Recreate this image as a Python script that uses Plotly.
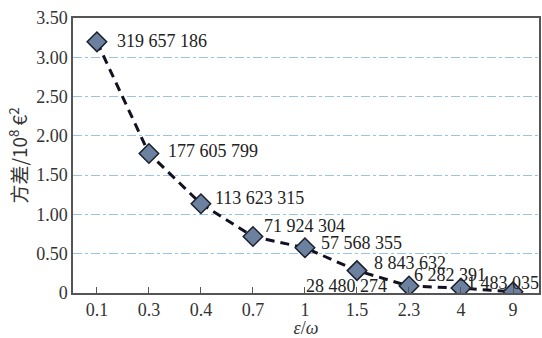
import plotly.graph_objects as go

ratios = ["0.1", "0.3", "0.4", "0.7", "1", "1.5", "2.3", "4", "9"]
variance = [319657186, 177605799, 113623315, 71924304, 57568355, 28480274, 8843632, 6282391, 1483035]
labels = ["319 657 186", "177 605 799", "113 623 315", "71 924 304", "57 568 355",
          "28 480 274", "8 843 632", "6 282 391", "1 483 035"]
y_vals = [v / 1e8 for v in variance]
ytick_vals = [0, 0.5, 1.0, 1.5, 2.0, 2.5, 3.0, 3.5]
ytick_text = ["0", "0.50", "1.00", "1.50", "2.00", "2.50", "3.00", "3.50"]

# label offsets (pixels) relative to each point
xshifts = [18, 17, 12, 9, 14, -53, -37, -49, -48]
yshifts = [1, 2, 6, 10, 5, -15, 23, 13, 9]

FONT = "Liberation Serif, Times New Roman, serif"
fig = go.Figure()
fig.add_trace(go.Scatter(
    x=ratios, y=y_vals, mode="lines+markers",
    line=dict(color="#111122", width=3, dash="9px,6px"),
    marker=dict(symbol="diamond", size=15, color="#6c819f",
                line=dict(color="#1a1f2b", width=1.5)),
    showlegend=False,
))
for i, (yv, t, dx, dy) in enumerate(zip(y_vals, labels, xshifts, yshifts)):
    fig.add_annotation(x=i, y=yv, text=t, showarrow=False, xanchor="left",
                       yanchor="middle", xshift=dx, yshift=dy,
                       font=dict(family=FONT, size=18, color="#222222"))

fig.update_layout(
    width=542, height=338,
    margin=dict(l=73, r=1, t=18, b=43),
    paper_bgcolor="white", plot_bgcolor="white",
    font=dict(family=FONT, size=18, color="#333333"),
    xaxis=dict(
        type="category", range=[-0.46, 8.5],
        showline=True, linecolor="#555555", linewidth=1.5, mirror=True,
        ticks="inside", ticklen=6, tickcolor="#555555", showgrid=False,
        tickfont=dict(family=FONT, size=18, color="#333333"),
        title=dict(text="<i>ε</i>/<i>ω</i>", standoff=4,
                   font=dict(family=FONT, size=18, color="#333333")),
    ),
    yaxis=dict(
        range=[0, 3.5], tickvals=ytick_vals, ticktext=ytick_text,
        showline=True, linecolor="#555555", linewidth=1.5, mirror=True,
        ticks="", showgrid=True, gridcolor="#9cc3e4", griddash="dashdot", gridwidth=1,
        zeroline=False,
        tickfont=dict(family=FONT, size=18, color="#333333"),
        title=dict(text="方差/10<sup>8</sup> €<sup>2</sup>", standoff=4,
                   font=dict(family="Noto Sans CJK SC, " + FONT, size=19, color="#333333")),
    ),
)
fig.write_html("out.html")
